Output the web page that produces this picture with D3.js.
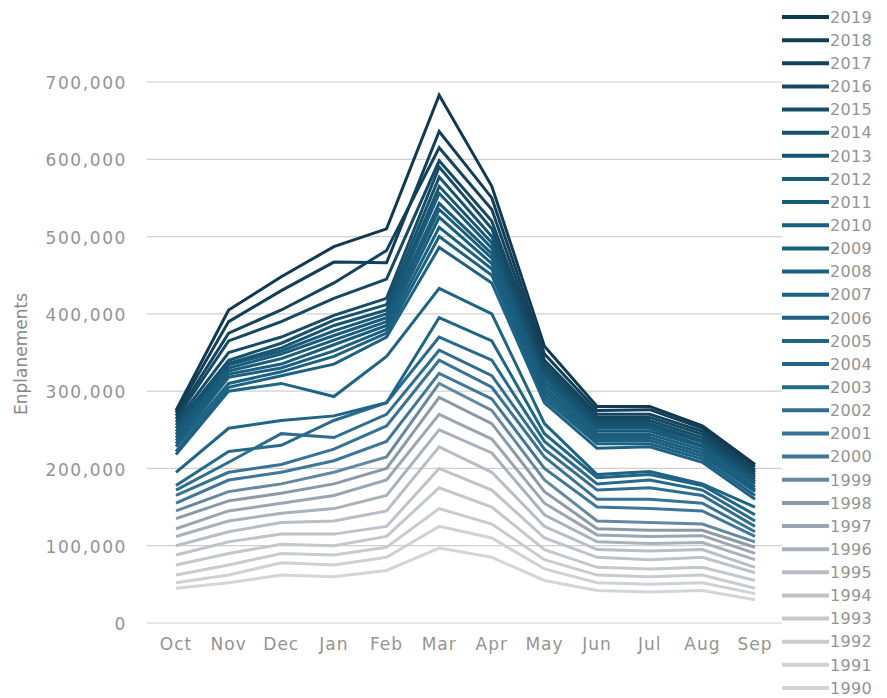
<!DOCTYPE html>
<meta charset="utf-8">
<style>
body { margin: 0; background: #fff; }
svg { display: block; }
.ticks text {
  font: 17px "DejaVu Sans", sans-serif;
  letter-spacing: 1.6px;
  fill: #949494;
}
.months text {
  font: 17px "DejaVu Sans", sans-serif;
  letter-spacing: 1px;
  fill: #949494;
}
.legend text {
  font: 16px "DejaVu Sans", sans-serif;
  letter-spacing: 0.3px;
  fill: #949494;
}
.ylabel {
  font: 17px "DejaVu Sans", sans-serif;
  fill: #888;
}
.grid line { stroke: #d0d0d0; stroke-width: 1.2; }
</style>
<body>
<svg width="887" height="698"></svg>
</body>
<script src="https://cdn.jsdelivr.net/npm/d3@7"></script>
<script>

var months = ["Oct", "Nov", "Dec", "Jan", "Feb", "Mar", "Apr", "May", "Jun", "Jul", "Aug", "Sep"];
var yTicks = [0, 100000, 200000, 300000, 400000, 500000, 600000, 700000];
var years = d3.range(1990, 2020);

// enplanements per month, in thousands
var y1990 = [45, 52, 62, 60, 68, 97, 85, 55, 42, 40, 42, 30];
var y1991 = [52, 62, 78, 75, 85, 125, 110, 70, 52, 50, 52, 38];
var y1992 = [62, 75, 90, 88, 98, 148, 128, 82, 62, 60, 62, 45];
var y1993 = [75, 90, 102, 100, 112, 175, 150, 95, 72, 70, 72, 55];
var y1994 = [88, 105, 115, 115, 125, 200, 172, 110, 85, 82, 85, 65];
var y1995 = [100, 118, 130, 132, 145, 228, 195, 125, 95, 93, 95, 72];
var y1996 = [112, 132, 142, 148, 165, 250, 220, 140, 105, 103, 104, 82];
var y1997 = [122, 145, 155, 165, 185, 270, 238, 155, 114, 112, 113, 90];
var y1998 = [135, 158, 168, 180, 200, 292, 258, 170, 122, 120, 120, 98];
var y1999 = [145, 170, 180, 195, 215, 310, 275, 185, 132, 130, 128, 105];
var y2000 = [155, 185, 195, 210, 235, 323, 290, 200, 150, 148, 145, 112];
var y2001 = [165, 195, 205, 225, 255, 340, 305, 215, 160, 160, 155, 118];
var y2002 = [172, 208, 245, 240, 270, 353, 320, 225, 172, 175, 165, 125];
var y2003 = [178, 222, 230, 262, 285, 370, 340, 235, 180, 185, 172, 132];
var y2004 = [195, 252, 262, 268, 285, 395, 365, 245, 188, 192, 178, 140];
var y2005 = [218, 300, 310, 293, 345, 433, 400, 258, 192, 196, 180, 150];
var y2006 = [222, 305, 320, 335, 370, 486, 440, 285, 226, 228, 208, 160];
var y2007 = [228, 310, 325, 345, 375, 500, 450, 290, 232, 232, 212, 165];
var y2008 = [232, 318, 330, 352, 380, 512, 458, 295, 236, 236, 216, 170];
var y2009 = [236, 322, 335, 360, 385, 525, 465, 300, 240, 240, 220, 172];
var y2010 = [240, 326, 342, 366, 390, 535, 472, 305, 244, 244, 224, 176];
var y2011 = [244, 330, 348, 372, 395, 543, 478, 310, 248, 248, 228, 180];
var y2012 = [248, 334, 352, 378, 400, 556, 485, 315, 252, 252, 230, 183];
var y2013 = [252, 336, 356, 385, 405, 565, 492, 320, 255, 255, 234, 186];
var y2014 = [256, 340, 362, 392, 412, 577, 500, 325, 258, 258, 236, 189];
var y2015 = [260, 350, 370, 398, 420, 590, 510, 330, 262, 262, 240, 192];
var y2016 = [264, 365, 390, 420, 445, 598, 520, 335, 266, 266, 244, 195];
var y2017 = [268, 375, 405, 440, 482, 615, 535, 340, 270, 270, 248, 198];
var y2018 = [272, 390, 430, 467, 466, 636, 550, 348, 275, 276, 252, 202];
var y2019 = [275, 405, 448, 487, 510, 683, 565, 358, 280, 280, 255, 205];

var seriesValues = [y1990, y1991, y1992, y1993, y1994, y1995, y1996, y1997, y1998, y1999,
  y2000, y2001, y2002, y2003, y2004, y2005, y2006, y2007, y2008, y2009,
  y2010, y2011, y2012, y2013, y2014, y2015, y2016, y2017, y2018, y2019];

var series = years.map((yr, i) => ({
  year: yr,
  values: seriesValues[i].map((v, j) => ({ month: months[j], value: v * 1000 }))
}));

var svg = d3.select("svg");

var x = d3.scalePoint().domain(months).range([176, 755]);
var y = d3.scaleLinear().domain([0, 700000]).range([623, 82]);

var color = d3.scaleLinear()
    .domain([1990, 1995, 1998, 2000, 2004, 2012, 2019])
    .range(["#d3d6d9", "#b8bec5", "#8c9aa8", "#3f779b", "#1e6587", "#185a79", "#113a52"]);

// grid
svg.append("g")
    .attr("class", "grid")
  .selectAll("line")
  .data(yTicks)
  .enter().append("line")
    .attr("x1", 147)
    .attr("x2", 782)
    .attr("y1", d => y(d))
    .attr("y2", d => y(d));

svg.append("g")
    .attr("class", "ticks")
  .selectAll("text")
  .data(yTicks)
  .enter().append("text")
    .attr("x", 127)
    .attr("y", d => y(d))
    .attr("dy", "0.42em")
    .attr("text-anchor", "end")
    .text(d => d3.format(",")(d));

svg.append("g")
    .attr("class", "months")
  .selectAll("text")
  .data(months)
  .enter().append("text")
    .attr("x", d => x(d))
    .attr("y", 650)
    .attr("text-anchor", "middle")
    .text(d => d);

svg.append("text")
    .attr("class", "ylabel")
    .attr("transform", "translate(27,354) rotate(-90)")
    .attr("text-anchor", "middle")
    .text("Enplanements");

var line = d3.line()
    .x(d => x(d.month))
    .y(d => y(d.value));

svg.append("g")
  .selectAll("path")
  .data(series)
  .enter().append("path")
    .attr("fill", "none")
    .attr("stroke", d => color(d.year))
    .attr("stroke-width", 3)
    .attr("stroke-linejoin", "miter")
    .attr("d", d => line(d.values));

// legend, newest year on top
var legendY = d3.scalePoint().domain(years.slice().reverse()).range([17, 688]);

var legend = svg.append("g")
    .attr("class", "legend")
  .selectAll("g")
  .data(series)
  .enter().append("g")
    .attr("transform", d => `translate(0,${legendY(d.year)})`);

legend.append("line")
    .attr("x1", 782)
    .attr("x2", 829)
    .attr("stroke", d => color(d.year))
    .attr("stroke-width", 4);

legend.append("text")
    .attr("x", 830)
    .attr("dy", "0.36em")
    .text(d => d.year);

</script>
